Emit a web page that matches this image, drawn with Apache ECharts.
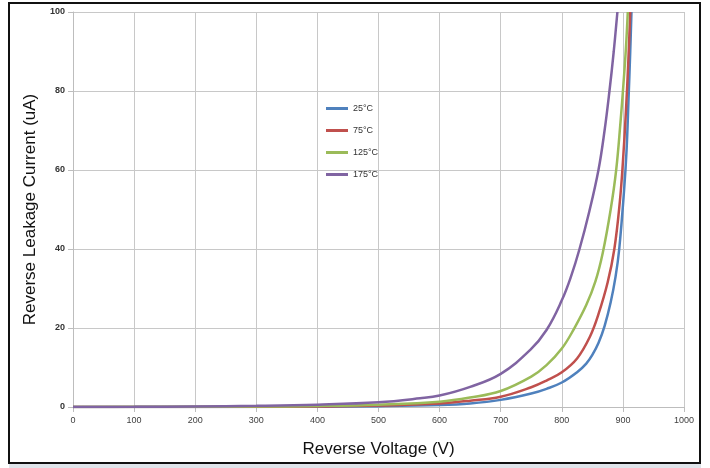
<!DOCTYPE html>
<html><head><meta charset="utf-8">
<script src="https://cdn.jsdelivr.net/npm/echarts@6/dist/echarts.min.js"></script>
<style>html,body{margin:0;padding:0;background:#fff}#c{width:710px;height:468px}</style>
</head><body><div id="c"></div>
<script>
const seriesNames = ['25°C', '75°C', '125°C', '175°C'];
const v25 = [0, 300, 400, 500, 600, 650, 700, 750, 775, 800, 825, 840, 850, 860, 870, 880, 888, 894, 902, 906, 909, 912, 914];
const i25 = [0, 0.03, 0.08, 0.2, 0.5, 0.9, 1.8, 3.4, 4.6, 6.2, 8.8, 11, 13.2, 16.2, 20.5, 26.5, 33, 40, 55, 65, 77, 90, 100];
const v75 = [0, 300, 400, 500, 600, 650, 700, 750, 775, 800, 825, 846, 860, 875, 886, 895, 900, 905, 909, 912];
const i75 = [0, 0.05, 0.12, 0.35, 0.9, 1.6, 2.6, 5.0, 6.7, 8.8, 12.3, 17.8, 23.5, 31.5, 40, 52, 62, 75, 88, 100];
const v125 = [0, 300, 400, 500, 600, 650, 700, 750, 775, 800, 820, 840, 855, 867, 880, 889, 896, 901, 905, 908];
const i125 = [0, 0.1, 0.25, 0.6, 1.35, 2.4, 4.05, 7.7, 10.6, 14.8, 19.8, 25.8, 31.8, 39, 50, 60, 72, 82, 91, 100];
const v175 = [0, 100, 200, 300, 400, 500, 568, 600, 650, 700, 748, 775, 800, 815, 829, 845, 860, 870, 878, 885, 891];
const i175 = [0, 0.05, 0.15, 0.3, 0.6, 1.2, 2.2, 2.9, 5.1, 8.4, 14.4, 19.5, 27, 33, 40, 49.5, 60, 70, 80, 90, 100];
const xTicks = [0, 100, 200, 300, 400, 500, 600, 700, 800, 900, 1000];
const yTicks = [0, 20, 40, 60, 80, 100];
const colors = ['#4F81BD', '#C0504D', '#9BBB59', '#8064A2'];

const pairs = (vs, is) => vs.map((v, k) => [v, is[k]]);
const dataSets = [pairs(v25, i25), pairs(v75, i75), pairs(v125, i125), pairs(v175, i175)];

const chart = echarts.init(document.getElementById('c'));
chart.setOption({
  animation: false,
  color: colors,
  grid: { left: 73, right: 26, top: 12, bottom: 61, containLabel: false },
  legend: {
    orient: 'vertical', left: 321, top: 99, itemGap: 13,
    itemWidth: 22, itemHeight: 3, icon: 'rect',
    textStyle: { fontSize: 9, color: '#333', fontFamily: 'Liberation Sans' },
    data: seriesNames
  },
  xAxis: {
    type: 'value', min: xTicks[0], max: xTicks[xTicks.length - 1], interval: 100,
    name: 'Reverse Voltage (V)', nameLocation: 'middle', nameGap: 34,
    nameTextStyle: { fontSize: 17, color: '#111', fontFamily: 'Liberation Sans' },
    axisLine: { show: true, lineStyle: { color: '#bdbdbd' } },
    axisTick: { show: true, length: 5, lineStyle: { color: '#bdbdbd' } },
    axisLabel: { fontSize: 9, color: '#404040', margin: 9, fontFamily: 'Liberation Sans', formatter: v => String(v) },
    splitLine: { show: true, lineStyle: { color: '#c8c8c8', width: 1 } }
  },
  yAxis: {
    type: 'value', min: yTicks[0], max: yTicks[yTicks.length - 1], interval: 20,
    name: 'Reverse Leakage Current (uA)', nameLocation: 'middle', nameGap: 33,
    nameTextStyle: { fontSize: 17, color: '#111', fontFamily: 'Liberation Sans' },
    axisLine: { show: true, lineStyle: { color: '#bdbdbd' } },
    axisTick: { show: true, length: 5, lineStyle: { color: '#bdbdbd' } },
    axisLabel: { fontSize: 9, fontWeight: 'bold', color: '#333', margin: 8, fontFamily: 'Liberation Sans', formatter: v => String(v) },
    splitLine: { show: true, lineStyle: { color: '#c8c8c8', width: 1 } }
  },
  graphic: [
    { type: 'rect', shape: { x: 9, y: 3, width: 691, height: 460 }, style: { fill: 'none', stroke: '#111', lineWidth: 2 }, z: 100 },
    { type: 'rect', shape: { x: 9, y: 464, width: 692, height: 4 }, style: { fill: '#dfe4ea' }, z: 100 }
  ],
  series: seriesNames.map((n, k) => ({
    name: n, type: 'line', data: dataSets[k], smooth: 0.4, symbol: 'none',
    lineStyle: { width: 2.5, color: colors[k] }, clip: true
  }))
});
</script></body></html>
